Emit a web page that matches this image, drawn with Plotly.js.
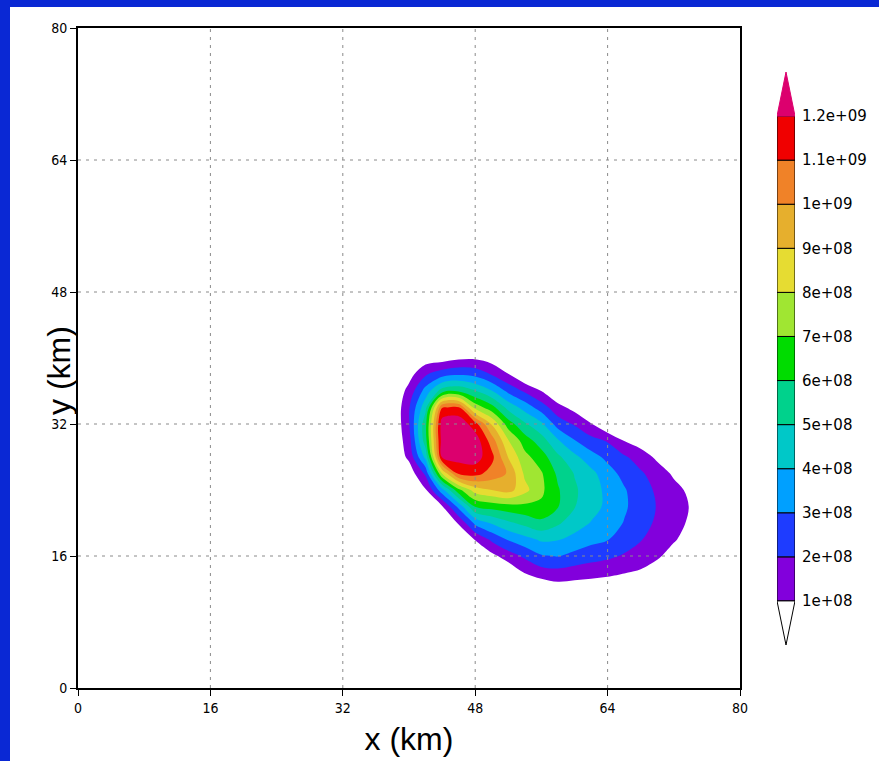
<!DOCTYPE html>
<html><head><meta charset="utf-8">
<script src="https://cdn.plot.ly/plotly-3.0.1.min.js"></script>
<style>
html,body{margin:0;padding:0;background:#0a28d4;width:879px;height:761px;overflow:hidden}
#chart{position:absolute;left:10px;top:7px;width:869px;height:754px;background:#fff}
</style></head><body><div id="chart"></div>
<script>
// grid coordinates (km)
const xKm = [36,38,40,42,44,46,48,50,52,54,56,58,60,62,64,66,68,70,72,74,76];
const yKm = [10,12,14,16,18,20,22,24,26,28,30,32,34,36,38,40,42];
// field values in units of 1e8, one row per y (bottom to top), columns follow xKm
const z1e8 = [
 [0,0,0,0,0,0,0,0,0,0,0,0,0,0,0,0,0,0,0,0,0],
 [0,0,0,0,0,0,0,0,0,0,0.1,0.5,0.45,0.35,0.3,0.2,0.1,0,0,0,0],
 [0,0,0,0,0,0,0,0,0.2,1.05,1.55,1.65,1.5,1.4,1.25,1.05,0.85,0.5,0.2,0,0],
 [0,0,0,0,0,0,0,0.7,1.5,2.2,2.9,3.05,2.7,2.4,2.2,1.9,1.6,1.15,0.6,0.3,0],
 [0,0,0,0,0,0,1.05,2.2,3.1,3.65,4.15,4.05,3.7,3.3,3.05,2.5,2.05,1.6,1.1,0.6,0.2],
 [0,0,0,0,0,1.1,3.25,4.1,4.8,5.3,5.75,5.15,4.45,3.95,3.5,2.95,2.35,1.85,1.35,0.85,0.4],
 [0,0,0,0,0.9,3.3,6.05,6.4,6.6,6.75,6.8,6.05,5.05,4.35,3.8,3.15,2.5,1.95,1.45,0.95,0.5],
 [0,0,0,0.9,3.6,6.7,8.5,9.0,9.4,8.3,7.2,6.1,5.15,4.45,3.75,3.1,2.4,1.85,1.3,0.8,0.35],
 [0,0,0.35,2.2,8.05,11.2,11.35,10.6,9.9,7.8,7.1,5.8,4.95,4.3,3.4,2.7,2.15,1.5,0.85,0.45,0.1],
 [0,0,1.25,4.3,12.1,12.4,12.5,11.3,8.95,7.3,6.45,5.2,4.25,3.4,2.75,2.15,1.5,0.8,0.35,0.1,0],
 [0,0,1.6,5.6,12.5,13.2,12.6,10.5,8.05,6.5,5.45,4.1,3.05,2.35,1.9,0.95,0.5,0.2,0,0,0],
 [0,0,1.9,5.7,12.6,12.8,11.4,8.9,6.5,5.15,4.2,2.55,1.9,1.05,0,0,0,0,0,0,0],
 [0,0,1.9,4.7,10.95,11.1,7.6,6.4,4.65,3.6,2.5,1.35,0.65,0,0,0,0,0,0,0,0],
 [0,0,1.35,3.4,5.5,5.85,5.05,4.05,2.75,1.85,0.98,0,0,0,0,0,0,0,0,0,0],
 [0,0,0.6,1.9,2.6,2.9,2.7,1.95,1.05,0,0,0,0,0,0,0,0,0,0,0,0],
 [0,0,0,0.4,0.5,0.8,0.85,0.5,0,0,0,0,0,0,0,0,0,0,0,0,0],
 [0,0,0,0,0,0,0,0,0,0,0,0,0,0,0,0,0,0,0,0,0]
];
const levels = [1e8,2e8,3e8,4e8,5e8,6e8,7e8,8e8,9e8,1e9,1.1e9,1.2e9];
const levelLabels = ['1e+08','2e+08','3e+08','4e+08','5e+08','6e+08','7e+08','8e+08','9e+08','1e+09','1.1e+09','1.2e+09'];
const bandColors = ['rgb(130,0,220)','rgb(30,60,255)','rgb(0,160,255)','rgb(0,200,200)','rgb(0,210,140)',
  'rgb(0,220,0)','rgb(160,230,50)','rgb(230,220,50)','rgb(230,175,45)','rgb(240,130,40)','rgb(240,0,0)'];
const overColor = 'rgb(220,0,110)';
const axisTicks = [0,16,32,48,64,80];
const gridVals = [16,32,48,64];

const z = z1e8.map(r => r.map(v => v * 1e8));
const step = levels[1] - levels[0];
const nLev = levels.length;
const topLevel = levels[nLev - 1];

// piecewise-constant colour scale: white below first level, one flat colour per band
const eps = 1e-4;
const cs = [[0,'#ffffff'],[1/nLev - eps,'#ffffff']];
bandColors.forEach((c,i) => { cs.push([(i + 1)/nLev, c]); cs.push([(i + 2)/nLev - eps, c]); });
cs.push([1, overColor]);

const contour = {
  type:'contour', x:xKm, y:yKm, z:z, autocontour:false,
  contours:{start:levels[0], end:topLevel, size:step, coloring:'fill', showlines:false},
  line:{width:0, smoothing:1}, colorscale:cs, showscale:false, hoverinfo:'skip'
};
const bar = {
  type:'bar', xaxis:'x2', yaxis:'y2',
  x: bandColors.map(() => 0), y: bandColors.map(() => step), base: levels.slice(0, nLev - 1),
  width: 1, marker:{color: bandColors, line:{color:'#000', width:1}},
  hoverinfo:'skip', showlegend:false
};

const shapes = [];
gridVals.forEach(v => {
  shapes.push({type:'line', xref:'x', yref:'y', x0:v, x1:v, y0:0, y1:80, layer:'above',
    line:{color:'#8a8a8a', width:1, dash:'3px,5px'}});
  shapes.push({type:'line', xref:'x', yref:'y', x0:0, x1:80, y0:v, y1:v, layer:'above',
    line:{color:'#8a8a8a', width:1, dash:'3px,5px'}});
});
shapes.push({type:'path', xref:'x2', yref:'y2', layer:'above',
  path:`M -0.5 ${topLevel} L 0.5 ${topLevel} L 0 ${topLevel + step} Z`,
  fillcolor: overColor, line:{color: overColor, width:1}});
shapes.push({type:'path', xref:'x2', yref:'y2', layer:'above',
  path:`M -0.5 ${levels[0]} L 0.5 ${levels[0]} L 0 ${levels[0] - step} Z`,
  fillcolor:'#ffffff', line:{color:'#000', width:1}});

const tickFont = {family:'DejaVu Sans Condensed, DejaVu Sans, sans-serif', size:14, color:'#000'};
const titleFont = {family:'Liberation Sans, Arial, sans-serif', size:32, color:'#000'};
const mainW = 741, plotW = 662;
const layout = {
  width:869, height:754, margin:{l:68, r:60, t:21, b:73},
  paper_bgcolor:'#ffffff', plot_bgcolor:'#ffffff', barmode:'overlay', showlegend:false,
  xaxis:{range:[0,80], domain:[0, plotW/mainW], tickvals:axisTicks, ticks:'outside', ticklen:6, tickwidth:1,
    tickcolor:'#000', showline:true, linewidth:2, linecolor:'#000', mirror:true, showgrid:false, zeroline:false,
    tickfont:tickFont, title:{text:'x (km)', font:titleFont, standoff:13}},
  yaxis:{range:[0,80], domain:[0,1], tickvals:axisTicks, ticks:'outside', ticklen:6, tickwidth:1,
    tickcolor:'#000', showline:true, linewidth:2, linecolor:'#000', mirror:true, showgrid:false, zeroline:false,
    tickfont:tickFont},
  xaxis2:{domain:[(767-68)/mainW, (785-68)/mainW], range:[-0.5,0.5], visible:false, fixedrange:true},
  yaxis2:{anchor:'x2', domain:[(681-638)/660, (681-65)/660], range:[levels[0]-step, topLevel+step], side:'right',
    tickvals:levels, ticktext:levelLabels, ticks:'outside', ticklen:3, tickcolor:'rgba(0,0,0,0)',
    showline:false, showgrid:false, zeroline:false,
    tickfont:{family:'DejaVu Sans, sans-serif', size:15, color:'#000'}},
  shapes:shapes,
  annotations:[{text:'y (km)', xref:'paper', yref:'paper', x:(49-68)/mainW, y:(681-364)/660,
    xanchor:'center', yanchor:'middle', textangle:-90, showarrow:false, font:titleFont}]
};
Plotly.newPlot('chart', [contour, bar], layout, {staticPlot:true, displayModeBar:false});
</script></body></html>
